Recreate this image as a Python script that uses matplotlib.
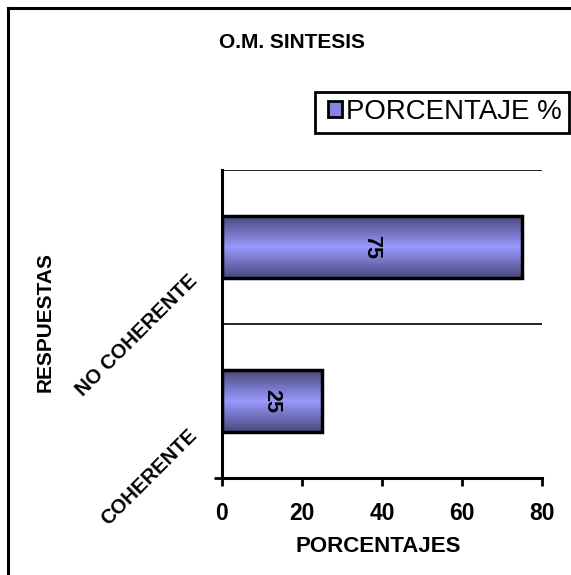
import matplotlib
matplotlib.use("Agg")
import matplotlib.pyplot as plt
import numpy as np
from matplotlib.lines import Line2D
from matplotlib.patches import Patch, Rectangle
from matplotlib.colors import LinearSegmentedColormap

plt.rcParams['font.family'] = ['Liberation Sans', 'DejaVu Sans']

categories = ["COHERENTE", "NO COHERENTE"]
values = [25, 75]
xticks = [0, 20, 40, 60, 80]
title = "O.M. SINTESIS"
series_name = "PORCENTAJE %"
xlabel = "PORCENTAJES"
ylabel = "RESPUESTAS"

W, H = 571, 575
fig = plt.figure(figsize=(W / 100, H / 100), dpi=100)
fig.patch.set_facecolor('white')

ax = fig.add_axes([222 / W, 1 - 478 / H, 320 / W, 308 / H])
ax.set_xlim(0, 80)
ax.set_ylim(-0.5, 1.5)

ypos = np.arange(len(categories))
bars = ax.barh(ypos, values, height=0.4, facecolor='none', edgecolor='black',
               linewidth=2.5, zorder=4)

cmap = LinearSegmentedColormap.from_list('g', ['#48487a', '#9999ff', '#48487a'])
grad = np.linspace(0, 1, 256).reshape(-1, 1)
for b, v in zip(bars, values):
    x0, y0 = b.get_x(), b.get_y()
    w, h = b.get_width(), b.get_height()
    im = ax.imshow(grad, cmap=cmap, aspect='auto', extent=[x0, x0 + w, y0, y0 + h],
                   origin='lower', zorder=3, interpolation='bicubic')
    clip = plt.Rectangle((x0, y0), w, h, transform=ax.transData)
    im.set_clip_path(clip)
    ax.text(x0 + w / 2, y0 + h / 2, str(v), rotation=270,
            ha='center', va='center', fontsize=15.5, fontweight='bold', zorder=5)

ax.set_xlim(0, 80)
ax.set_ylim(-0.5, 1.5)

# gridlines at category boundaries
for yb in [0.5, 1.5]:
    ax.axhline(yb, color='black', linewidth=1.2, zorder=2)

for s in ['top', 'right']:
    ax.spines[s].set_visible(False)
for s in ['left', 'bottom']:
    ax.spines[s].set_linewidth(2.2)
    ax.spines[s].set_zorder(6)

ax.set_xticks(xticks)
ax.set_xticklabels([str(t) for t in xticks], fontsize=16.5, fontweight='bold')
ax.tick_params(axis='x', length=6, width=2, pad=11)
ax.set_yticks([-0.5])
ax.set_yticklabels([])
ax.tick_params(axis='y', length=6, width=2)

for yc, cat in zip(ypos, categories):
    ax.annotate(cat, xy=(0, yc), xycoords='data', xytext=(-28, -31),
                textcoords='offset pixels', rotation=45, rotation_mode='anchor',
                ha='right', va='center', fontsize=14.5, fontweight='bold')

fig.text(378 / W, 1 - 547 / H, xlabel, ha='center', va='center', fontsize=16,
         fontweight='bold')
fig.text(45 / W, 1 - 322 / H, ylabel, ha='center', va='center', rotation=90,
         fontsize=15, fontweight='bold')
fig.text(292 / W, 1 - 43 / H, title, ha='center', va='center', fontsize=15,
         fontweight='bold')

# legend frame
fig.add_artist(Rectangle((315 / W, 1 - 133 / H), 254 / W, 41 / H, facecolor='white',
                         edgecolor='black', linewidth=2, transform=fig.transFigure,
                         zorder=1))
handle = Patch(facecolor='#8585e0', edgecolor='black', linewidth=2)
leg = fig.legend([handle], [series_name], loc='center left',
                 bbox_to_anchor=(328 / W, 1 - 112 / H), fontsize=19.9, frameon=False,
                 borderaxespad=0, borderpad=0,
                 handlelength=0.5, handleheight=0.5, handletextpad=0.15)
leg.set_zorder(2)

# outer frame (left and top visible)
fig.add_artist(Line2D([8 / W, 8 / W], [0, 1 - 8 / H], color='black', linewidth=2.2,
                      transform=fig.transFigure))
fig.add_artist(Line2D([8 / W, 1], [1 - 8 / H, 1 - 8 / H], color='black', linewidth=2.2,
                      transform=fig.transFigure))

fig.savefig('out.png', dpi=100)
